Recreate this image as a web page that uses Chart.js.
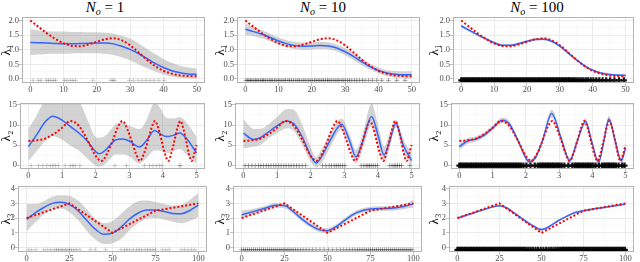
<!DOCTYPE html>
<html><head><meta charset="utf-8">
<script src="https://cdn.jsdelivr.net/npm/chart.js@4"></script>
<style>
html,body{margin:0;padding:0;background:#fff;width:640px;height:262px;overflow:hidden;position:relative}
canvas{position:absolute}
.ttl{position:absolute;top:0px;width:160px;text-align:center;font-family:'Liberation Serif','DejaVu Serif',serif;font-weight:normal;font-size:15px;line-height:15px;color:#000;white-space:nowrap}
.ttl sub{font-size:10px;vertical-align:-3px;line-height:0}
</style></head><body>
<div class="ttl" style="left:25px"><i>N</i><sub><i>o</i></sub> = 1</div>
<div class="ttl" style="left:243px"><i>N</i><sub><i>o</i></sub> = 10</div>
<div class="ttl" style="left:457px"><i>N</i><sub><i>o</i></sub> = 100</div>
<script>
// ---------- tick labels ----------
const xTicks1 = [0,10,20,30,40,50], xMinor1 = [5,15,25,35,45];
const yTicks1 = [0,0.5,1,1.5,2], yLabels1 = ['0.0','0.5','1.0','1.5','2.0'], yMinor1 = [0.25,0.75,1.25,1.75];
const xTicks2 = [0,1,2,3,4,5], xMinor2 = [0.5,1.5,2.5,3.5,4.5];
const yTicks2 = [0,5,10,15], yLabels2 = ['0','5','10','15'], yMinor2 = [2.5,7.5,12.5];
const xTicks3 = [0,25,50,75,100], xMinor3 = [12.5,37.5,62.5,87.5];
const yTicks3 = [0,1,2,3,4], yLabels3 = ['0','1','2','3','4'], yMinor3 = [0.5,1.5,2.5,3.5];
const titles = ['λ₁','λ₂','λ₃'];

// ---------- row 1 : lambda_1 on [0,50] ----------
const t1 = [0,2.5,5,7.5,10,12.5,15,17.5,20,22.5,25,27.5,30,32.5,35,37.5,40,42.5,45,47.5,50];
const truth1 = [2.00,1.78,1.56,1.37,1.22,1.13,1.12,1.18,1.27,1.36,1.39,1.32,1.15,0.91,0.66,0.44,0.28,0.18,0.12,0.10,0.09];
const mean1a = [1.25,1.24,1.23,1.21,1.20,1.20,1.21,1.22,1.23,1.23,1.20,1.12,1.01,0.87,0.70,0.53,0.39,0.28,0.21,0.17,0.16];
const hi1a   = [1.70,1.66,1.63,1.62,1.62,1.61,1.61,1.60,1.60,1.58,1.55,1.48,1.38,1.22,1.03,0.85,0.68,0.55,0.45,0.39,0.36];
const lo1a   = [0.82,0.84,0.85,0.86,0.86,0.87,0.88,0.88,0.88,0.86,0.82,0.74,0.63,0.50,0.37,0.25,0.15,0.08,0.04,0.02,0.01];
const mean1b = [1.70,1.62,1.53,1.42,1.30,1.20,1.14,1.12,1.13,1.14,1.13,1.06,0.93,0.77,0.59,0.42,0.29,0.20,0.16,0.14,0.14];
const hi1b   = [1.90,1.78,1.67,1.55,1.42,1.32,1.26,1.24,1.25,1.26,1.25,1.18,1.05,0.89,0.70,0.52,0.39,0.30,0.27,0.26,0.27];
const lo1b   = [1.50,1.46,1.39,1.29,1.18,1.08,1.02,1.00,1.01,1.02,1.01,0.94,0.81,0.65,0.48,0.32,0.19,0.10,0.05,0.03,0.02];
const mean1c = [1.82,1.66,1.51,1.37,1.24,1.15,1.15,1.21,1.29,1.35,1.36,1.29,1.12,0.89,0.66,0.45,0.30,0.20,0.15,0.13,0.12];
const hi1c   = [1.87,1.70,1.55,1.41,1.28,1.19,1.19,1.25,1.33,1.39,1.40,1.33,1.16,0.93,0.70,0.49,0.34,0.24,0.19,0.17,0.17];
const lo1c   = [1.74,1.61,1.47,1.33,1.20,1.11,1.11,1.17,1.25,1.31,1.32,1.25,1.08,0.85,0.62,0.41,0.26,0.16,0.11,0.09,0.08];

// ---------- row 2 : lambda_2 on [0,5] ----------
const truthT2 = [0,0.25,0.5,0.8,1.0,1.25,1.5,1.77,2.0,2.17,2.35,2.5,2.65,2.8,2.95,3.07,3.2,3.32,3.44,3.55,3.66,3.76,3.87,3.96,4.06,4.16,4.25,4.34,4.43,4.52,4.61,4.69,4.77,4.85,4.93,5.0];
const truth2  = [6.0,6.2,6.6,8.0,9.3,11.0,9.8,6.0,2.3,1.0,3.0,6.0,9.3,11.0,8.8,6.0,2.8,1.0,3.0,6.0,9.2,11.0,9.0,6.0,2.8,1.0,3.0,6.0,9.3,11.0,9.0,6.0,2.8,1.0,2.8,5.0];
const t2a    = [0,0.25,0.5,0.73,1.0,1.25,1.5,1.75,2.0,2.1,2.3,2.6,2.8,3.0,3.3,3.5,3.75,3.9,4.1,4.3,4.5,4.7,5.0];
const mean2a = [4.6,7.6,10.8,12.2,11.2,9.6,8.0,6.0,3.3,2.8,3.8,6.3,6.5,6.0,4.5,6.0,8.6,7.9,7.1,7.4,8.0,6.6,3.0];
const hi2a   = [9.0,12.5,16.5,18.0,17.5,17.0,16.0,11.5,7.0,6.8,7.4,10.2,10.6,9.8,9.0,11.0,15.5,14.5,11.8,11.6,12.0,10.6,7.0];
const lo2a   = [1.0,3.5,6.0,7.2,6.3,4.8,3.6,1.6,-0.2,-0.4,0.4,2.6,2.6,2.2,0.4,1.6,3.6,3.6,3.0,3.4,4.0,2.6,0.4];
const t2b    = [0,0.15,0.3,0.5,0.75,1.0,1.3,1.5,1.75,2.0,2.16,2.35,2.6,2.92,3.15,3.35,3.55,3.81,4.0,4.18,4.35,4.53,4.75,5.0];
const mean2b = [8.0,7.0,6.4,6.8,8.3,9.8,11.0,10.3,7.0,2.3,0.5,2.5,6.5,10.2,6.2,2.0,6.0,12.1,7.5,2.5,6.0,10.4,5.0,1.1];
const hi2b   = [11.5,10.0,9.0,9.0,10.2,12.0,14.0,13.8,10.0,4.5,2.0,4.3,8.2,11.6,7.8,3.8,8.0,15.3,10.0,4.6,7.8,11.3,6.5,3.0];
const lo2b   = [4.2,4.4,4.6,5.0,6.7,8.0,9.2,8.5,5.0,0.8,-0.6,0.8,4.8,8.8,4.8,0.5,4.2,9.8,5.4,0.7,4.4,9.4,3.5,-0.2];
const t2c    = [0,0.25,0.5,0.75,1.0,1.3,1.5,1.77,2.0,2.1,2.3,2.5,2.78,3.07,3.32,3.55,3.8,3.98,4.19,4.35,4.5,4.69,4.87,5.0];
const mean2c = [4.6,6.0,6.5,7.5,9.2,11.2,10.3,6.0,1.8,0.8,2.0,6.0,12.9,6.5,1.1,6.0,10.9,6.0,0.7,6.0,11.5,6.0,1.1,4.2];
const hi2c   = [5.4,6.7,7.1,8.1,9.8,11.9,11.0,6.6,2.4,1.4,2.6,6.7,13.9,7.2,1.8,6.6,11.7,6.6,1.4,6.7,12.3,6.7,1.9,5.2];
const lo2c   = [3.8,5.3,5.9,6.9,8.6,10.5,9.6,5.4,1.2,0.2,1.4,5.3,11.9,5.8,0.4,5.4,10.1,5.4,0.0,5.3,10.7,5.3,0.3,3.2];

// ---------- row 3 : lambda_3 on [0,100] ----------
const truthT3 = [0,25,50,75,100];
const truth3  = [2,3,1,2.5,3];
const t3 = [0,5,10,15,20,25,30,35,40,45,50,55,60,65,70,75,80,85,90,95,100];
const mean3a = [1.92,2.35,2.72,3.00,3.07,2.92,2.50,1.85,1.25,0.90,0.98,1.40,1.95,2.35,2.55,2.55,2.45,2.32,2.30,2.52,2.88];
const hi3a   = [2.95,2.95,3.15,3.45,3.55,3.50,3.20,2.60,1.95,1.65,1.80,2.30,2.80,3.15,3.20,3.10,2.95,2.85,2.90,3.25,3.70];
const lo3a   = [1.10,1.70,2.25,2.60,2.65,2.40,1.85,1.15,0.55,0.25,0.30,0.60,1.20,1.65,1.95,2.00,1.90,1.75,1.65,1.80,2.10];
const mean3b = [2.22,2.38,2.55,2.72,2.88,2.85,2.45,1.95,1.52,1.22,1.15,1.42,1.85,2.25,2.50,2.62,2.65,2.65,2.70,2.80,2.98];
const hi3b   = [2.52,2.58,2.72,2.88,3.05,3.03,2.62,2.12,1.68,1.38,1.32,1.58,2.00,2.40,2.65,2.77,2.80,2.80,2.86,2.98,3.25];
const lo3b   = [1.95,2.18,2.38,2.56,2.71,2.67,2.28,1.78,1.36,1.06,0.98,1.26,1.70,2.10,2.35,2.47,2.50,2.50,2.54,2.62,2.72];
const mean3c = [2.00,2.18,2.37,2.55,2.73,2.84,2.65,2.25,1.85,1.48,1.22,1.45,1.82,2.12,2.38,2.50,2.60,2.68,2.77,2.86,2.95];
const hi3c   = [2.07,2.24,2.43,2.61,2.79,2.90,2.71,2.31,1.91,1.54,1.29,1.51,1.88,2.18,2.44,2.56,2.66,2.74,2.83,2.92,3.03];
const lo3c   = [1.93,2.12,2.31,2.49,2.67,2.78,2.59,2.19,1.79,1.42,1.15,1.39,1.76,2.06,2.32,2.44,2.54,2.62,2.71,2.80,2.87];

// ---------- observed event times (rug marks) ----------
const obs1a = [0.8,2.4,3.2,4.8,5.5,6.2,7.0,7.6,10.2,11.0,12.0,12.8,13.6,18.8,24.2,24.8,25.4,29.8,31.0,32.4,33.6,34.8,36.0,37.2,38.6,40.2];
const obs1b = [0.2,0.7,1.1,1.6,2.0,2.6,3.1,3.5,4.0,4.6,5.1,5.5,6.0,6.6,7.2,7.7,8.1,8.8,9.3,9.9,10.4,11.0,11.6,12.1,12.8,13.3,13.9,14.5,15.2,15.8,16.3,17.0,17.6,18.2,18.9,19.5,20.1,20.8,21.3,21.9,22.4,23.0,23.5,24.1,24.7,25.2,25.8,26.4,27.0,27.6,28.1,28.8,29.4,30.0,30.7,31.3,32.0,32.8,33.5,34.3,35.2,36.0,37.1,38.2,39.5,41.0,43.0,45.5,48.0];
const obs1c = [0.0,0.4,0.9,1.3,1.8,2.2,2.7,3.1,3.6,4.0,4.5,4.9,5.4,5.8,6.3,6.7,7.2,7.6,8.1,8.5,9.0,9.4,9.9,10.3,10.8,11.2,11.7,12.1,12.6,13.0,13.5,13.9,14.4,14.8,15.3,15.7,16.2,16.6,17.1,17.5,18.0,18.4,18.9,19.3,19.8,20.2,20.7,21.1,21.6,22.0,22.5,22.9,23.4,23.8,24.3,24.7,25.2,25.6,26.1,26.5,27.0,27.4,27.9,28.3,28.8,29.2,29.7,30.1,30.6,31.0,31.5,31.9,32.4,32.8,33.3,33.8,34.3,34.8,35.4,36.0,36.6,37.2,37.9,38.6,39.4,40.2,41.1,42.0,43.0,44.1,45.3,46.6,48.0,49.5];
const obs2a = [0.08,0.3,0.43,0.55,0.65,0.73,0.8,0.89,1.09,1.24,1.32,1.39,1.53,2.57,2.91,3.45,3.6,3.7,3.8,3.89,3.97,4.48,4.53];
const obs2b = [0.05,0.15,0.25,0.35,0.45,0.52,0.6,0.68,0.75,0.82,0.9,0.97,1.05,1.12,1.2,1.27,1.35,1.42,1.5,1.58,1.66,1.75,1.85,2.35,2.45,2.55,2.62,2.7,2.76,2.82,2.88,2.95,3.02,3.5,3.58,3.65,3.7,3.75,3.8,3.86,3.92,3.99,4.35,4.42,4.48,4.53,4.58,4.64,4.7,4.95];
const obs2c = [0,0.05,0.1,0.15,0.2,0.25,0.3,0.35,0.4,0.45,0.5,0.55,0.6,0.65,0.7,0.75,0.8,0.85,0.9,0.95,1,1.05,1.1,1.15,1.2,1.25,1.3,1.35,1.4,1.45,1.5,1.55,1.6,1.65,1.7,1.75,1.8,1.86,1.93,2.02,2.14,2.27,2.36,2.42,2.47,2.52,2.57,2.62,2.67,2.72,2.77,2.82,2.87,2.92,2.97,3.02,3.08,3.16,3.28,3.4,3.47,3.52,3.57,3.62,3.67,3.72,3.77,3.82,3.87,3.92,3.97,4.03,4.1,4.2,4.29,4.35,4.4,4.45,4.5,4.55,4.6,4.65,4.71,4.79,4.9,4.97];
const obs3a = [1,3,5.5,10,12,14,16,17.5,18.5,20,21,22.5,23.5,25,26,27.5,29,31,37,40,46,55,57,58.5,60,62,64,65.5,67,69,70.5,72,73.5,75,79,81,83,90,92,94,96,98];
const obs3b = [0,1.2,2.3,3.5,4.6,5.8,6.9,8.1,9.2,10.4,11.5,12.7,13.8,15,16.1,17.3,18.4,19.6,20.7,21.9,23,24.2,25.3,26.5,27.6,28.8,30,31.3,32.7,34.2,35.8,37.5,39.3,41.2,43.3,45.6,48,50.5,53,55.4,57.5,59.4,61.2,62.9,64.5,66,67.4,68.8,70.1,71.4,72.6,73.8,75,76.2,77.4,78.5,79.7,80.8,82,83.1,84.3,85.4,86.6,87.7,88.9,90,91.2,92.3,93.5,94.6,95.8,96.9,98.1,99.2];
const obs3c = [0,0.9,1.8,2.7,3.6,4.5,5.4,6.3,7.2,8.1,9,9.9,10.8,11.7,12.6,13.5,14.4,15.3,16.2,17.1,18,18.9,19.8,20.7,21.6,22.5,23.4,24.3,25.2,26.1,27,27.9,28.8,29.7,30.6,31.5,32.4,33.3,34.2,35.1,36,37,38,39,40,41.1,42.3,43.6,45,46.5,48,49.6,51.2,52.8,54.3,55.8,57.2,58.5,59.7,60.8,61.8,62.8,63.7,64.6,65.5,66.4,67.3,68.2,69.1,70,70.9,71.8,72.7,73.6,74.5,75.4,76.3,77.2,78.1,79,79.9,80.8,81.7,82.6,83.5,84.4,85.3,86.2,87.1,88,88.9,89.8,90.7,91.6,92.5,93.4,94.3,95.2,96.1,97,97.9,98.8,99.7];

// ---------- layout (pixels) ----------
const COLS = [[0,212],[214,427],[428,640]];
const ROWS = [[17,83],[103,169],[186,252]];
const BOX = [[[22,205],[237,420],[453,637]],[[20,205],[235,420],[451,637]],[[18,207],[233,424],[449,638]]];
const PADTOP = 8, XH = 13;

const rowCfg = [
  {xt:xTicks1, xm:xMinor1, xmin:-2.5, xmax:52.5, yt:yTicks1, yl:yLabels1, ym:yMinor1, ymin:-0.14, ymax:2.12, tx:t1, ty:truth1, mono:true, markY:-0.05},
  {xt:xTicks2, xm:xMinor2, xmin:-0.25, xmax:5.25, yt:yTicks2, yl:yLabels2, ym:yMinor2, ymin:-1.0, ymax:15.5, tx:truthT2, ty:truth2, mono:true, markY:-0.15},
  {xt:xTicks3, xm:xMinor3, xmin:-5, xmax:105, yt:yTicks3, yl:yLabels3, ym:yMinor3, ymin:-0.3, ymax:4.18, tx:truthT3, ty:truth3, mono:false, markY:-0.15}
];
const panels = [
  [{x:t1,m:mean1a,hi:hi1a,lo:lo1a,obs:obs1a},{x:t1,m:mean1b,hi:hi1b,lo:lo1b,obs:obs1b},{x:t1,m:mean1c,hi:hi1c,lo:lo1c,obs:obs1c}],
  [{x:t2a,m:mean2a,hi:hi2a,lo:lo2a,obs:obs2a},{x:t2b,m:mean2b,hi:hi2b,lo:lo2b,obs:obs2b},{x:t2c,m:mean2c,hi:hi2c,lo:lo2c,obs:obs2c}],
  [{x:t3,m:mean3a,hi:hi3a,lo:lo3a,obs:obs3a},{x:t3,m:mean3b,hi:hi3b,lo:lo3b,obs:obs3b},{x:t3,m:mean3c,hi:hi3c,lo:lo3c,obs:obs3c}]
];
const MK = [{r:2.5,w:1,c:'rgba(0,0,0,0.18)'},{r:2.5,w:1,c:'rgba(0,0,0,0.35)'},{r:3,w:2.2,c:'rgba(0,0,0,0.9)'}];

const pts = (xs, ys) => xs.map((x,i)=>({x:x, y:ys[i]}));
const FONT = "'Liberation Serif', 'DejaVu Serif', serif";

const boxPlugin = {
  id:'panelBox',
  afterDatasetsDraw(chart){
    const a = chart.chartArea, c = chart.ctx;
    c.save(); c.strokeStyle = '#b3b3b3'; c.lineWidth = 1;
    c.strokeRect(Math.round(a.left)+0.5, Math.round(a.top)+0.5, Math.round(a.right-a.left)-1, Math.round(a.bottom-a.top)-1);
    c.restore();
  }
};

function axis(majors, labels, minors, min, max, size, title) {
  const isMaj = v => majors.indexOf(v) >= 0;
  const o = {
    type:'linear', min:min, max:max,
    afterBuildTicks: s => { s.ticks = majors.concat(minors).sort((a,b)=>a-b).map(v=>({value:v})); },
    afterFit: s => { if (s.isHorizontal()) s.height = size; else s.width = size; },
    ticks:{ autoSkip:false, maxRotation:0, minRotation:0, padding:0, color:'#4d4d4d',
      font:{family:FONT, size:8.5, lineHeight:1},
      callback: v => { const i = majors.indexOf(v); return i >= 0 ? labels[i] : ''; } },
    grid:{ color: c => isMaj(c.tick.value) ? '#e6e6e6' : '#f3f3f3',
      lineWidth: c => isMaj(c.tick.value) ? 0.8 : 0.5,
      tickLength:3, tickWidth:0.8,
      tickColor: c => isMaj(c.tick.value) ? '#b3b3b3' : 'rgba(0,0,0,0)' },
    border:{display:false}
  };
  if (title) o.title = {display:true, text:title, color:'#000', font:{family:FONT, size:13, lineHeight:1.0}, padding:0};
  return o;
}

for (let r = 0; r < 3; r++) {
  for (let c = 0; c < 3; c++) {
    const rc = rowCfg[r], p = panels[r][c], mk = MK[c];
    const [cl, cr] = COLS[c], [bl, br] = BOX[r][c], [bt, bb] = ROWS[r];
    const cv = document.createElement('canvas');
    const W = cr - cl, H = PADTOP + (bb - bt) + XH;
    cv.width = W; cv.height = H;
    cv.style.left = cl + 'px'; cv.style.top = (bt - PADTOP) + 'px';
    cv.style.width = W + 'px'; cv.style.height = H + 'px';
    document.body.appendChild(cv);
    const mode = rc.mono ? 'monotone' : 'default';
    new Chart(cv, {
      type:'line',
      data:{ datasets:[
        {data:pts(p.x,p.lo), borderColor:'rgba(0,0,0,0)', borderWidth:0, pointRadius:0, fill:false, cubicInterpolationMode:'monotone', order:4},
        {data:pts(p.x,p.hi), borderColor:'rgba(0,0,0,0)', borderWidth:0, pointRadius:0, fill:'-1', backgroundColor:'rgba(150,150,150,0.42)', cubicInterpolationMode:'monotone', order:3},
        {data:p.obs.map(x=>({x:x, y:rc.markY})), showLine:false, pointStyle:'cross', pointRadius:mk.r, pointBorderWidth:mk.w, pointBorderColor:mk.c, borderColor:mk.c, pointBackgroundColor:'rgba(0,0,0,0)', order:2},
        {data:pts(p.x,p.m), borderColor:'#3366FF', borderWidth:1.5, pointRadius:0, fill:false, cubicInterpolationMode:'monotone', order:1},
        {data:pts(rc.tx,rc.ty), borderColor:'#ff0000', borderWidth:2, borderDash:[2,2], pointRadius:0, fill:false, cubicInterpolationMode:mode, tension:0, order:0}
      ]},
      options:{
        responsive:false, animation:false, devicePixelRatio:1, events:[],
        layout:{padding:{left:0, top:PADTOP, right:cr - br, bottom:0}},
        plugins:{legend:{display:false}, tooltip:{enabled:false}},
        scales:{
          x: axis(rc.xt, rc.xt.map(String), rc.xm, rc.xmin, rc.xmax, XH, null),
          y: axis(rc.yt, rc.yl, rc.ym, rc.ymin, rc.ymax, bl - cl, titles[r])
        }
      },
      plugins:[boxPlugin]
    });
  }
}
</script>
</body></html>
